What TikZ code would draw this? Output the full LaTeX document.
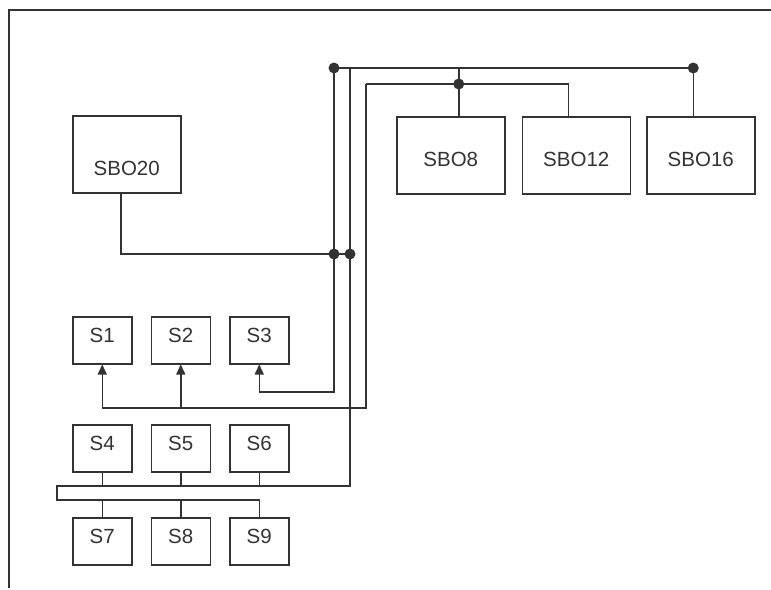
\documentclass[tikz,border=0pt]{standalone}
\usepackage{fontspec}
\setmainfont{Liberation Sans}
\usetikzlibrary{arrows.meta, positioning}
\definecolor{cline}{HTML}{333333}
\tikzset{
  every picture/.style={font=\fontsize{20.5}{24}\selectfont, line width=1.5pt, color=cline},
  bigbox/.style={draw, rectangle, anchor=north west, minimum width=108pt, minimum height=77pt, inner sep=0pt, text height=23pt, text depth=0pt},
  sbox/.style={draw, rectangle, anchor=north west, minimum width=59pt, minimum height=47pt, inner sep=0pt, text height=15pt, text depth=10pt},
  arr/.style={-{Triangle[length=10pt, width=9pt]}},
}

\begin{document}
\begin{tikzpicture}[x=1pt, y=-1pt]
  \useasboundingbox (0,0) rectangle (771,589);
  % frame
  \draw[line width=1.8pt] (9,588) -- (9,10) -- (771,10);

  % units
  \node[bigbox, text height=43pt] (sbo20) at (72,115) {SBO20};
  \node[bigbox] (sbo8) at (396,116) {SBO8};
  \node[bigbox, right=16pt of sbo8] (sbo12) {SBO12};
  \node[bigbox, right=15pt of sbo12] (sbo16) {SBO16};

  \node[sbox] (s1) at (72,316) {S1};
  \node[sbox, right=18pt of s1] (s2) {S2};
  \node[sbox, right=18pt of s2] (s3) {S3};
  \node[sbox] (s4) at (72,424) {S4};
  \node[sbox, right=18pt of s4] (s5) {S5};
  \node[sbox, right=18pt of s5] (s6) {S6};
  \node[sbox] (s7) at (72,517) {S7};
  \node[sbox, right=18pt of s7] (s8) {S8};
  \node[sbox, right=18pt of s8] (s9) {S9};

  % bus points
  \coordinate (ta) at (334,68);
  \coordinate (tb) at (350,68);
  \coordinate (tc) at (366,84);
  \coordinate (te) at ([xshift=-7.5pt]sbo16.north |- ta);
  \coordinate (t8) at ([xshift=8pt]sbo8.north |- ta);
  \coordinate (d8) at (t8 |- tc);
  \coordinate (ja) at (334,254);
  \coordinate (jb) at (350,254);
  \coordinate (ca) at (334,392);
  \coordinate (cc) at (366,408);
  \coordinate (cb) at (350,486);
  \coordinate (bl) at (57,486);
  \coordinate (bl2) at (57,500);

  % upper lines
  \draw (ta) -- (te) -- (te |- sbo16.north);
  \draw (t8) -- (t8 |- sbo8.north);
  \draw (tc) -| ([xshift=-8pt]sbo12.north);
  \draw ([xshift=-6pt]sbo20.south) |- (jb);

  % buses down to the S boxes
  \draw[arr] (ta) -- (ca) -| (s3.south);
  \draw[arr] (tc) -- (cc) -| (s1.south);
  \draw[arr] (s2.south |- cc) -- (s2.south);
  \draw (tb) -- (cb) -- (bl) -- (bl2) -| (s9.north);
  \foreach \n in {s4,s5,s6} \draw (\n.south) -- (\n.south |- cb);
  \foreach \n in {s7,s8} \draw (\n.north) -- (\n.north |- bl2);

  \foreach \p in {ta,te,d8,ja,jb} \fill (\p) circle (5.5pt);
\end{tikzpicture}
\end{document}
